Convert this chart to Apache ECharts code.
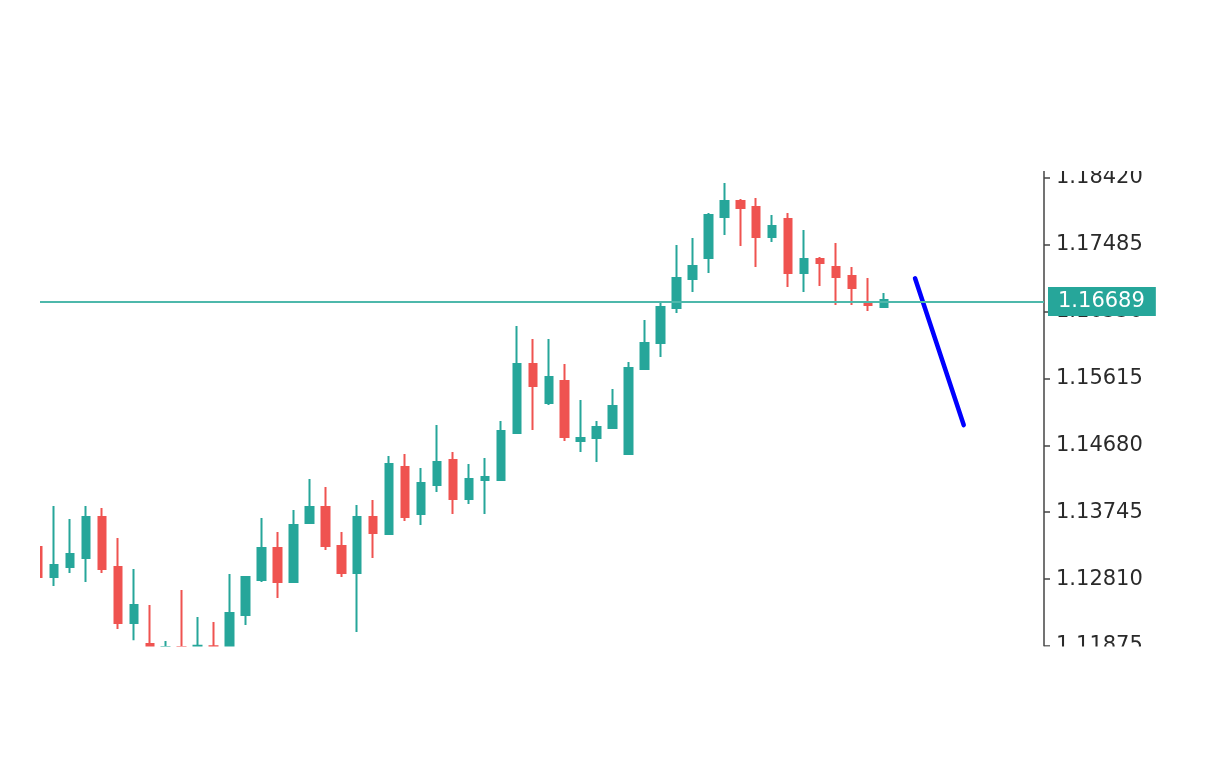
<!DOCTYPE html>
<html><head><meta charset="utf-8">
<script src="https://cdn.jsdelivr.net/npm/echarts@6/dist/echarts.min.js"></script>
<style>html,body{margin:0;padding:0;background:#fff}#c{width:1232px;height:757px}</style>
</head><body><div id="c"></div>
<script>
const opens = [1.13257,1.12838,1.12978,1.13104,1.13677,1.12978,1.12195,1.11902,1.1172,1.1186,1.1173,1.1187,1.1180,1.12307,1.12796,1.13243,1.12768,1.13593,1.13816,1.13271,1.12894,1.13677,1.13439,1.14375,1.13718,1.14124,1.14473,1.13928,1.14194,1.14194,1.14851,1.15815,1.15270,1.15577,1.14739,1.14781,1.14920,1.14557,1.15745,1.16108,1.16598,1.17003,1.17296,1.17869,1.18093,1.18009,1.17590,1.17841,1.17087,1.17282,1.17171,1.17045,1.16667,1.16612];
const closes = [1.12838,1.13006,1.13159,1.13677,1.12950,1.12195,1.12447,1.1175,1.1186,1.1172,1.1188,1.1176,1.12335,1.12838,1.13243,1.12768,1.13565,1.13816,1.13271,1.12894,1.13677,1.13453,1.14417,1.13677,1.14152,1.14445,1.13928,1.14208,1.14236,1.14878,1.15815,1.15507,1.15633,1.14795,1.14781,1.14934,1.15228,1.15759,1.16108,1.16612,1.17017,1.17185,1.17897,1.18093,1.17995,1.17590,1.17744,1.17087,1.17282,1.17226,1.17031,1.16877,1.16639,1.16709];
const lows = [1.1270,1.12712,1.12894,1.12768,1.12894,1.12111,1.11957,1.1168,1.1165,1.1165,1.1168,1.1170,1.1175,1.12167,1.12768,1.12544,1.12768,1.13593,1.13215,1.12838,1.12069,1.13104,1.13425,1.13621,1.13565,1.14026,1.13718,1.13858,1.13718,1.14180,1.14837,1.14892,1.15242,1.14739,1.14585,1.14445,1.14906,1.14543,1.15745,1.15913,1.16528,1.16821,1.17087,1.17618,1.17464,1.17171,1.17520,1.16891,1.16821,1.16905,1.16639,1.16639,1.16556,1.16598];
const highs = [1.1340,1.13830,1.13649,1.13830,1.13802,1.13383,1.12950,1.12447,1.11944,1.12656,1.12279,1.12209,1.12880,1.12852,1.13663,1.13467,1.13774,1.14208,1.14096,1.13467,1.13844,1.13914,1.14529,1.14557,1.14361,1.14962,1.14585,1.14417,1.14501,1.15018,1.16346,1.16164,1.16164,1.15815,1.15312,1.15018,1.15465,1.15843,1.16430,1.16667,1.17478,1.17576,1.17925,1.18345,1.18121,1.18135,1.17897,1.17925,1.17688,1.17310,1.17506,1.17171,1.17017,1.16807];
const tickLabels = ['1.11875','1.12810','1.13745','1.14680','1.15615','1.16550','1.17485','1.18420'];
const currentPrice = 1.16689;
const trendX = [54.95, 58.0];
const trendY = [1.17013, 1.14962];

const candleData = opens.map((o, i) => [i, o, closes[i], lows[i], highs[i]]);
const trendData = trendX.map((x, i) => [x, trendY[i]]);
const UP = '#26a69a', DOWN = '#ef5350';

const chart = echarts.init(document.getElementById('c'), null, {renderer: 'canvas'});
chart.setOption({
  animation: false,
  backgroundColor: '#ffffff',
  grid: {left: 40, right: 188, top: 170, bottom: 111, containLabel: false},
  xAxis: {type: 'value', min: 0.123, max: 63.03, show: false, splitLine: {show: false}},
  yAxis: {
    type: 'value', position: 'right', min: 1.11875, max: 1.18526, interval: 0.00935,
    splitLine: {show: false},
    axisLine: {show: true, lineStyle: {color: '#444', width: 1.5}},
    axisTick: {show: true, length: 6, lineStyle: {color: '#444', width: 1.5}},
    axisLabel: {
      margin: 12, color: '#2a2a2a', fontFamily: 'DejaVu Sans', fontSize: 21, showMaxLabel: false,
      formatter: v => { const s = v.toFixed(5); return tickLabels.indexOf(s) >= 0 ? s : ''; }
    }
  },
  series: [
    {
      type: 'candlestick', data: candleData, barWidth: 8, clip: true,
      itemStyle: {color: UP, color0: DOWN, borderColor: UP, borderColor0: DOWN, borderWidth: 2}
    },
    {
      type: 'line', data: trendData, symbol: 'none', clip: true, z: 3,
      lineStyle: {color: '#0000ff', width: 4.5, cap: 'round'},
      markLine: {
        silent: true, symbol: ['none', 'none'], precision: 5,
        lineStyle: {color: '#4db8ab', width: 2, type: 'solid'},
        label: {
          show: true, position: 'end', distance: 4, formatter: () => currentPrice.toFixed(5),
          color: '#ffffff', backgroundColor: '#26a69a', fontFamily: 'DejaVu Sans', fontSize: 21,
          padding: [4, 11, 4, 10], lineHeight: 21
        },
        data: [{yAxis: currentPrice}]
      }
    }
  ],
  graphic: [
    {type: 'rect', z: 100, shape: {x: 0, y: 0, width: 1232, height: 171}, style: {fill: '#ffffff'}},
    {type: 'rect', z: 100, shape: {x: 0, y: 646.5, width: 1232, height: 111}, style: {fill: '#ffffff'}},
    {type: 'rect', z: 100, shape: {x: 0, y: 0, width: 40, height: 757}, style: {fill: '#ffffff'}}
  ]
});
</script></body></html>
